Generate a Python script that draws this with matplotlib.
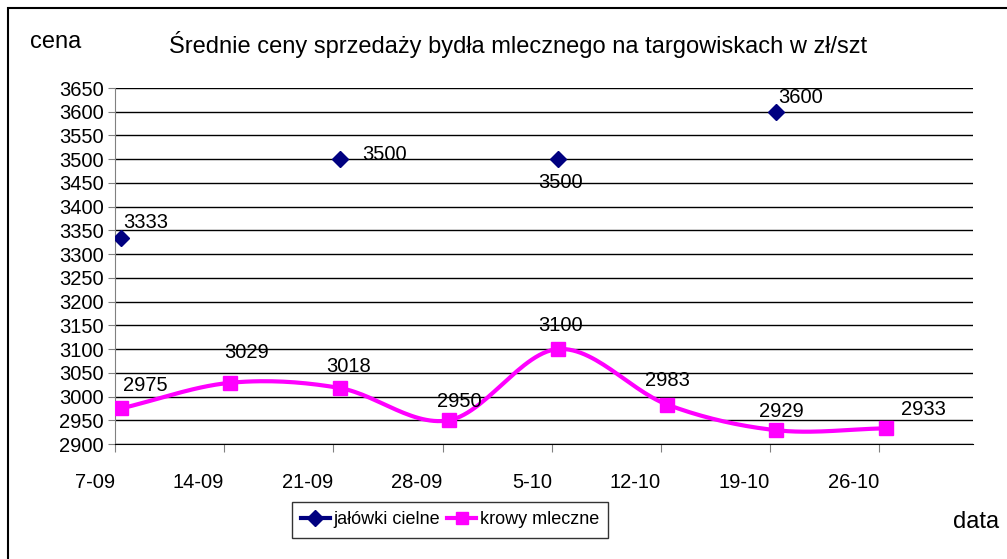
import numpy as np
import matplotlib
matplotlib.use('Agg')
from matplotlib import pyplot as plt
from matplotlib.patches import Rectangle

plt.rcParams['font.family'] = ['Liberation Sans', 'DejaVu Sans']

# dane
daty = ['7-09', '14-09', '21-09', '28-09', '5-10', '12-10', '19-10', '26-10']
dni = [0, 7, 14, 21, 28, 35, 42, 49]
jalowki = [3333, None, 3500, None, 3500, None, 3600, None]
krowy = [2975, 3029, 3018, 2950, 3100, 2983, 2929, 2933]
y_ticks = list(range(2900, 3651, 50))

# przesuniecia etykiet danych (px): dx, dy, wyrownanie
etyk_jal = [(2, 16, 'left'), None, (23, 5, 'left'), None, (2, -23, 'center'),
            None, (2, 14, 'left'), None]
etyk_kr = [(2, 23, 'left'), (16, 30, 'center'), (9, 21, 'center'), (10, 19, 'center'),
           (2, 24, 'center'), (0, 24, 'center'), (5, 19, 'center'), (15, 19, 'left')]


def catmull_rom(x, y, n=30):
    # wygladzona linia jak w Excelu
    x = np.asarray(x, float)
    y = np.asarray(y, float)
    px = np.concatenate([[2 * x[0] - x[1]], x, [2 * x[-1] - x[-2]]])
    py = np.concatenate([[2 * y[0] - y[1]], y, [2 * y[-1] - y[-2]]])
    xs, ys = [], []
    t = np.linspace(0, 1, n)
    for i in range(1, len(px) - 2):
        for p, out in ((px, xs), (py, ys)):
            p0, p1, p2, p3 = p[i - 1], p[i], p[i + 1], p[i + 2]
            out.extend(0.5 * (2 * p1 + (-p0 + p2) * t
                              + (2 * p0 - 5 * p1 + 4 * p2 - p3) * t ** 2
                              + (-p0 + 3 * p1 - 3 * p2 + p3) * t ** 3))
    return xs, ys


fig = plt.figure(figsize=(10.07, 5.59), dpi=100)
ax = fig.add_axes([115 / 1007, 1 - 444 / 559, (973 - 115) / 1007, (444 - 88) / 559])

off = 0.4
xk = [d + off for d in dni]
sx, sy = catmull_rom(xk, krowy)
ax.plot(sx, sy, color='#ff00ff', lw=3, zorder=3)
ax.plot(xk, krowy, ls='none', marker='s', ms=10, color='#ff00ff', zorder=4)

xj = [d + off for d, v in zip(dni, jalowki) if v is not None]
vj = [v for v in jalowki if v is not None]
ax.plot(xj, vj, ls='none', marker='D', ms=8, color='#000080', zorder=4)

# etykiety danych
fs = 14.5
for d, v, e in zip(dni, jalowki, etyk_jal):
    if v is None:
        continue
    ax.annotate(str(v), (d + off, v), xytext=(e[0] * 0.72, e[1] * 0.72),
                textcoords='offset points', ha=e[2], va='center', fontsize=fs)
for d, v, e in zip(dni, krowy, etyk_kr):
    ax.annotate(str(v), (d + off, v), xytext=(e[0] * 0.72, e[1] * 0.72),
                textcoords='offset points', ha=e[2], va='center', fontsize=fs)

ax.set_xlim(0, 55)
ax.set_ylim(2900, 3650)
ax.set_yticks(y_ticks)
ax.set_xticks(dni)
ax.set_xticklabels(daty, ha='right')
ax.tick_params(axis='y', labelsize=fs, length=5, color='#808080', pad=3)
ax.tick_params(axis='x', labelsize=fs, length=6, color='#808080', pad=15)
ax.yaxis.grid(True, color='black', lw=1)
ax.set_axisbelow(True)
for s in ['top', 'right']:
    ax.spines[s].set_visible(False)
ax.spines['left'].set_color('#808080')
ax.spines['bottom'].set_color('black')

# legenda
h1, = ax.plot([], [], color='#000080', lw=3, marker='D', ms=8)
h2, = ax.plot([], [], color='#ff00ff', lw=3, marker='s', ms=9)
fig.legend([h1, h2], ['jałówki cielne', 'krowy mleczne'], ncol=2,
           loc='center', bbox_to_anchor=(450 / 1007, 1 - 520 / 559),
           fontsize=13, frameon=True, fancybox=False, edgecolor='black',
           handlelength=1.6, handletextpad=0.2, columnspacing=0.4,
           borderpad=0.5, borderaxespad=0)

fig.text(30 / 1007, 1 - 42 / 559, 'cena', fontsize=17, va='center')
fig.text(518 / 1007, 1 - 45 / 559,
         'Średnie ceny sprzedaży bydła mlecznego na targowiskach w zł/szt',
         fontsize=17, ha='center', va='center')
fig.text(976 / 1007, 1 - 522 / 559, 'data', fontsize=17, ha='center', va='center')

fig.patches.append(Rectangle((8 / 1007, -0.05), 1.1, 1 - 8 / 559 + 0.05,
                             transform=fig.transFigure, fill=False,
                             edgecolor='black', lw=1.5))

plt.savefig('out.png', dpi=100)
